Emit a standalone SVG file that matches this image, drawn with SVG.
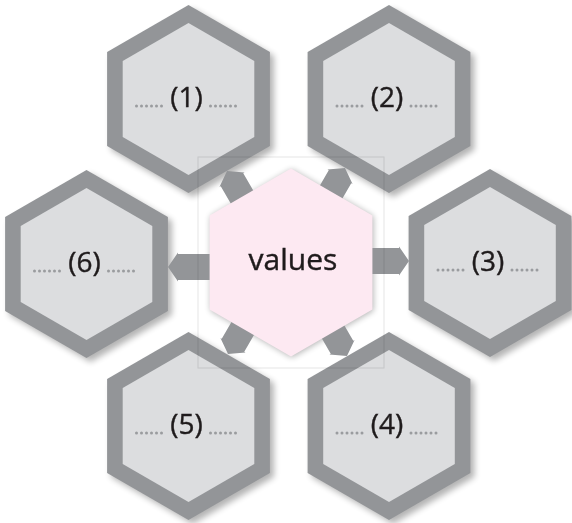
<svg xmlns="http://www.w3.org/2000/svg" xmlns:xlink="http://www.w3.org/1999/xlink" width="572" height="523" viewBox="0 0 572 523">
<defs>
<style>
.ring{fill:#939598}
.face{fill:#dcdddf}
.core{fill:#fde9f2}
.arrow{fill:#939598}
.dots{stroke:#9a9c9f;stroke-width:3;stroke-linecap:round;stroke-dasharray:0 5;fill:none}
.lbl{font-family:"Open Sans","DejaVu Sans",sans-serif;font-size:28px;fill:#1f1b1c;stroke:#1f1b1c;stroke-width:0.4;text-anchor:middle}
.title{font-size:30px}
</style>
<polygon id="hexO" points="0,-94 81.4,-47 81.4,47 0,94 -81.4,47 -81.4,-47"/>
<polygon id="hexI" points="0,-76 65.8,-38 65.8,38 0,76 -65.8,38 -65.8,-38"/>
<polygon id="arr" points="-46,-13 -10,-13 -10,-14.5 0,0 -10,14.5 -10,13 -46,13"/>
<filter id="sh" x="-10%" y="-10%" width="120%" height="120%"><feGaussianBlur stdDeviation="3"/></filter>
</defs>
<rect width="572" height="523" fill="#fff"/>
<g id="shadows" filter="url(#sh)" fill="#000" opacity="0.3">
<use xlink:href="#hexO" transform="translate(192.5,103)"/>
<use xlink:href="#hexO" transform="translate(393,103)"/>
<use xlink:href="#hexO" transform="translate(494,267)"/>
<use xlink:href="#hexO" transform="translate(393,430)"/>
<use xlink:href="#hexO" transform="translate(192.5,430)"/>
<use xlink:href="#hexO" transform="translate(90.5,268)"/>
<use xlink:href="#hexO" transform="translate(292,263.5)"/>
</g>
<g id="connectors">
<use class="arrow" xlink:href="#arr" transform="translate(227,171) rotate(-120)"/>
<use class="arrow" xlink:href="#arr" transform="translate(345,168) rotate(-60)"/>
<use class="arrow" xlink:href="#arr" transform="translate(409,261)"/>
<use class="arrow" xlink:href="#arr" transform="translate(347,356) rotate(60)"/>
<use class="arrow" xlink:href="#arr" transform="translate(228,354) rotate(120)"/>
<use class="arrow" xlink:href="#arr" transform="translate(168,267) rotate(180)"/>
</g>
<g id="node1" transform="translate(188.5,99)">
<use class="ring" xlink:href="#hexO"/><use class="face" xlink:href="#hexI"/>
<path class="dots" d="M-52,7H-22M22,7H52"/>
<text class="lbl" x="-2" y="8">(1)</text>
</g>
<g id="node2" transform="translate(389,99)">
<use class="ring" xlink:href="#hexO"/><use class="face" xlink:href="#hexI"/>
<path class="dots" d="M-52,7H-22M22,7H52"/>
<text class="lbl" x="-2" y="8">(2)</text>
</g>
<g id="node3" transform="translate(490,263)">
<use class="ring" xlink:href="#hexO"/><use class="face" xlink:href="#hexI"/>
<path class="dots" d="M-52,7H-22M22,7H52"/>
<text class="lbl" x="-2" y="8">(3)</text>
</g>
<g id="node4" transform="translate(389,426)">
<use class="ring" xlink:href="#hexO"/><use class="face" xlink:href="#hexI"/>
<path class="dots" d="M-52,7H-22M22,7H52"/>
<text class="lbl" x="-2" y="8">(4)</text>
</g>
<g id="node5" transform="translate(188.5,426)">
<use class="ring" xlink:href="#hexO"/><use class="face" xlink:href="#hexI"/>
<path class="dots" d="M-52,7H-22M22,7H52"/>
<text class="lbl" x="-2" y="8">(5)</text>
</g>
<g id="node6" transform="translate(86.5,264)">
<use class="ring" xlink:href="#hexO"/><use class="face" xlink:href="#hexI"/>
<path class="dots" d="M-52,7H-22M22,7H52"/>
<text class="lbl" x="-2" y="8">(6)</text>
</g>
<g id="center" transform="translate(291,262.5)">
<use class="core" xlink:href="#hexO"/>
<text class="lbl title" x="2" y="7">values</text>
</g>
<rect x="198" y="157" width="186" height="211" fill="none" stroke="#000" stroke-opacity="0.1" stroke-width="1"/>
</svg>
